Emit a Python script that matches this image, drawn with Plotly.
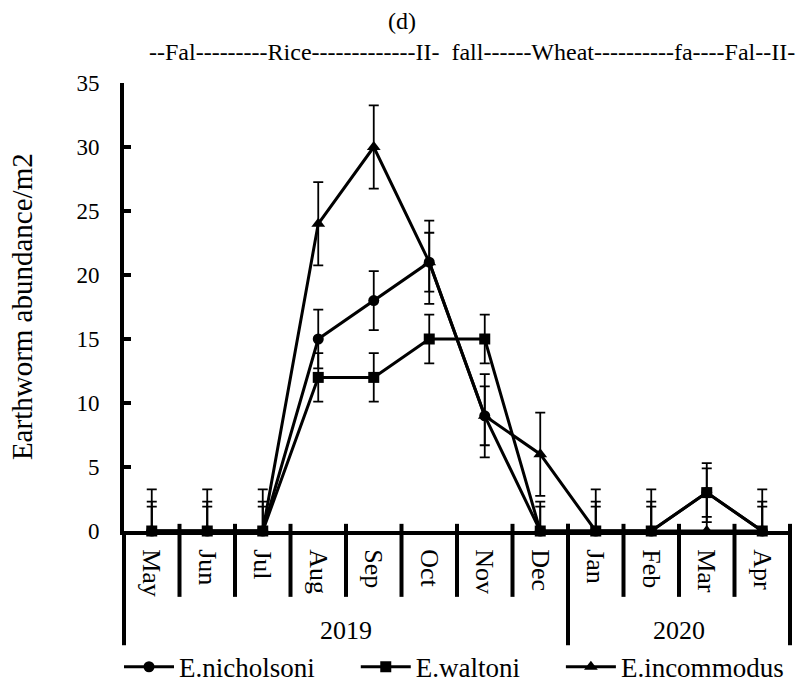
import plotly.graph_objects as go

months = ["May", "Jun", "Jul", "Aug", "Sep", "Oct", "Nov", "Dec", "Jan", "Feb", "Mar", "Apr"]
years = ["2019", "2020"]
year_month_counts = [8, 4]

nicholsoni = [0, 0, 0, 15, 18, 21, 9, 0, 0, 0, 3, 0]
waltoni = [0, 0, 0, 12, 12, 15, 15, 0, 0, 0, 3, 0]
incommodus = [0, 0, 0, 24, 30, 21, 9, 6, 0, 0, 0, 0]

err_nicholsoni = [2.3, 2.3, 2.3, 2.3, 2.3, 2.3, 2.3, 2.3, 2.3, 2.3, 2.3, 2.3]
err_waltoni = [1.9, 1.9, 1.9, 1.9, 1.9, 1.9, 1.9, 1.9, 1.9, 1.9, 1.9, 1.9]
err_incommodus = [3.25, 3.25, 3.25, 3.25, 3.25, 3.25, 3.25, 3.25, 3.25, 3.25, 3.25, 3.25]

crop_label = "--Fal---------Rice-------------II-  fall------Wheat----------fa----Fal--II-"
y_title = "Earthworm abundance/m2"

FONT = "Liberation Serif"

series = [
    ("E.nicholsoni", nicholsoni, err_nicholsoni, "circle", 11, "legend"),
    ("E.waltoni", waltoni, err_waltoni, "square", 11, "legend2"),
    ("E.incommodus", incommodus, err_incommodus, "triangle-up", 12, "legend3"),
]

fig = go.Figure()
for name, vals, err, sym, msize, leg in series:
    minus = [e if v > 0 else 0 for v, e in zip(vals, err)]
    fig.add_trace(go.Scatter(
        x=months, y=vals, name=name, mode="lines+markers",
        line=dict(color="black", width=3),
        marker=dict(symbol=sym, size=msize, color="black"),
        error_y=dict(type="data", array=err, arrayminus=minus, symmetric=False,
                     color="black", thickness=1.8, width=5),
        cliponaxis=False, legend=leg,
    ))

n = len(months)
shapes = []
line_style = dict(color="black", width=4)
# month separators
for k in range(1, n):
    shapes.append(dict(type="line", xref="paper", yref="paper", x0=k / n, x1=k / n,
                       y0=0.016, y1=-0.147, line=line_style))
# year separators (left edge, year boundaries, right edge)
bounds = [0]
for c in year_month_counts:
    bounds.append(bounds[-1] + c)
for b in bounds:
    shapes.append(dict(type="line", xref="paper", yref="paper", x0=b / n, x1=b / n,
                       y0=0.0 if b == 0 else 0.016, y1=-0.255, line=line_style))

annotations = []
start = 0
for yr, c in zip(years, year_month_counts):
    annotations.append(dict(text=yr, xref="paper", yref="paper", x=(start + c / 2) / n,
                            y=-0.221, showarrow=False, font=dict(size=26, family=FONT, color="black"),
                            xanchor="center", yanchor="middle"))
    start += c
annotations.append(dict(text=crop_label, xref="paper", yref="paper", x=0.035, y=1.07,
                        showarrow=False, xanchor="left", yanchor="middle",
                        font=dict(size=24, family=FONT, color="black")))
annotations.append(dict(text=y_title, xref="paper", yref="paper", x=-0.153, y=0.5,
                        textangle=-90, showarrow=False, xanchor="center", yanchor="middle",
                        font=dict(size=29, family=FONT, color="black")))

leg_common = dict(orientation="h", yanchor="middle", y=-0.304, xanchor="left",
                  font=dict(size=27, family=FONT, color="black"), bgcolor="rgba(0,0,0,0)",
                  itemwidth=50)

fig.update_layout(
    width=804, height=686,
    margin=dict(l=124, r=14, t=83, b=155, autoexpand=False),
    paper_bgcolor="white", plot_bgcolor="white",
    font=dict(family=FONT, color="black"),
    title=dict(text="(d)", x=0.5, xanchor="center", y=0.97, yanchor="middle",
               font=dict(size=24, family=FONT, color="black")),
    xaxis=dict(type="category", range=[-0.5, n - 0.5], showgrid=False, zeroline=False,
               showline=True, linecolor="black", linewidth=4, ticks="",
               tickangle=90, ticklabelstandoff=9,
               tickfont=dict(size=26, family=FONT, color="black")),
    yaxis=dict(range=[0, 35], dtick=5, showgrid=False, zeroline=False,
               showline=True, linecolor="black", linewidth=4,
               ticks="inside", ticklen=7, tickwidth=4, tickcolor="black",
               ticklabelstandoff=16,
               tickfont=dict(size=23, family=FONT, color="black")),
    showlegend=True,
    legend=dict(x=-0.0075, **leg_common),
    legend2=dict(x=0.348, **leg_common),
    legend3=dict(x=0.656, **leg_common),
    shapes=shapes,
    annotations=annotations,
)

fig.write_html("out.html", config={"displayModeBar": False},
               post_script="document.body.style.margin='0';document.body.style.overflow='hidden';")
